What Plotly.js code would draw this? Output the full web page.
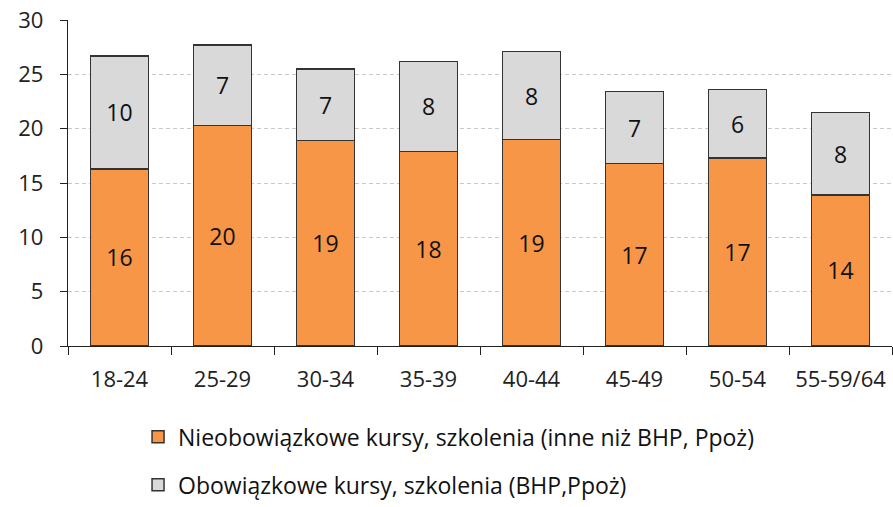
<!DOCTYPE html>
<html>
<head>
<meta charset="utf-8">
<script src="https://cdn.plot.ly/plotly-3.0.1.min.js"></script>
<style>html,body{margin:0;padding:0;background:#fff;}#chart{width:893px;height:507px;}</style>
</head>
<body>
<div id="chart"></div>
<script>
const categories = ["18-24","25-29","30-34","35-39","40-44","45-49","50-54","55-59/64"];
const nonMandatory = [16.3, 20.3, 18.9, 17.9, 19.0, 16.8, 17.3, 13.9];
const mandatory = [10.4, 7.4, 6.6, 8.3, 8.1, 6.6, 6.3, 7.6];
const seriesNames = ["Nieobowiązkowe kursy, szkolenia (inne niż BHP, Ppoż)", "Obowiązkowe kursy, szkolenia (BHP,Ppoż)"];
const yTicks = [0,5,10,15,20,25,30];

const font = "'Open Sans', sans-serif";
const lineStyle = {color: "#333", width: 1.5};
const traces = [
  {type: "bar", x: categories, y: nonMandatory, name: seriesNames[0], legendgroup: "a",
   marker: {color: "#F79646", line: lineStyle}, width: 0.56,
   texttemplate: "%{y:.0f}", textposition: "inside", insidetextanchor: "middle",
   textfont: {family: font, size: 23, color: "#111"}, hoverinfo: "none"},
  {type: "bar", x: categories, y: mandatory, name: seriesNames[1], legendgroup: "b",
   marker: {color: "#D9D9D9", line: lineStyle}, width: 0.56,
   texttemplate: "%{y:.0f}", textposition: "inside", insidetextanchor: "middle",
   textfont: {family: font, size: 23, color: "#111"}, hoverinfo: "none"}
];
const layout = {
  width: 893, height: 507, barmode: "stack",
  margin: {l: 68, r: 1, t: 20, b: 161},
  paper_bgcolor: "#fff", plot_bgcolor: "#fff",
  font: {family: font, size: 23, color: "#222"},
  xaxis: {showline: true, linecolor: "#222", linewidth: 1.3, ticks: "outside", tickson: "boundaries",
          ticklen: 8, tickcolor: "#222", showgrid: false, tickfont: {size: 22}, fixedrange: true,
          tickangle: 0, ticklabelstandoff: 13, automargin: false},
  yaxis: {range: [0, 30], tickvals: yTicks, showline: true, linecolor: "#222", linewidth: 1.3,
          ticks: "outside", ticklen: 7, tickcolor: "#222", gridcolor: "#c8c8c8", griddash: "4px,3px",
          gridwidth: 1, zeroline: false, tickfont: {size: 22}, fixedrange: true, ticklabelstandoff: 12,
          automargin: false},
  showlegend: true,
  legend: {orientation: "v", x: 0.085, xanchor: "left", y: -0.492, yanchor: "bottom",
           traceorder: "grouped", tracegroupgap: 15, font: {size: 23, color: "#111"},
           itemwidth: 30, borderwidth: 0}
};
Plotly.newPlot("chart", traces, layout, {displayModeBar: false, staticPlot: true});
</script>
</body>
</html>
